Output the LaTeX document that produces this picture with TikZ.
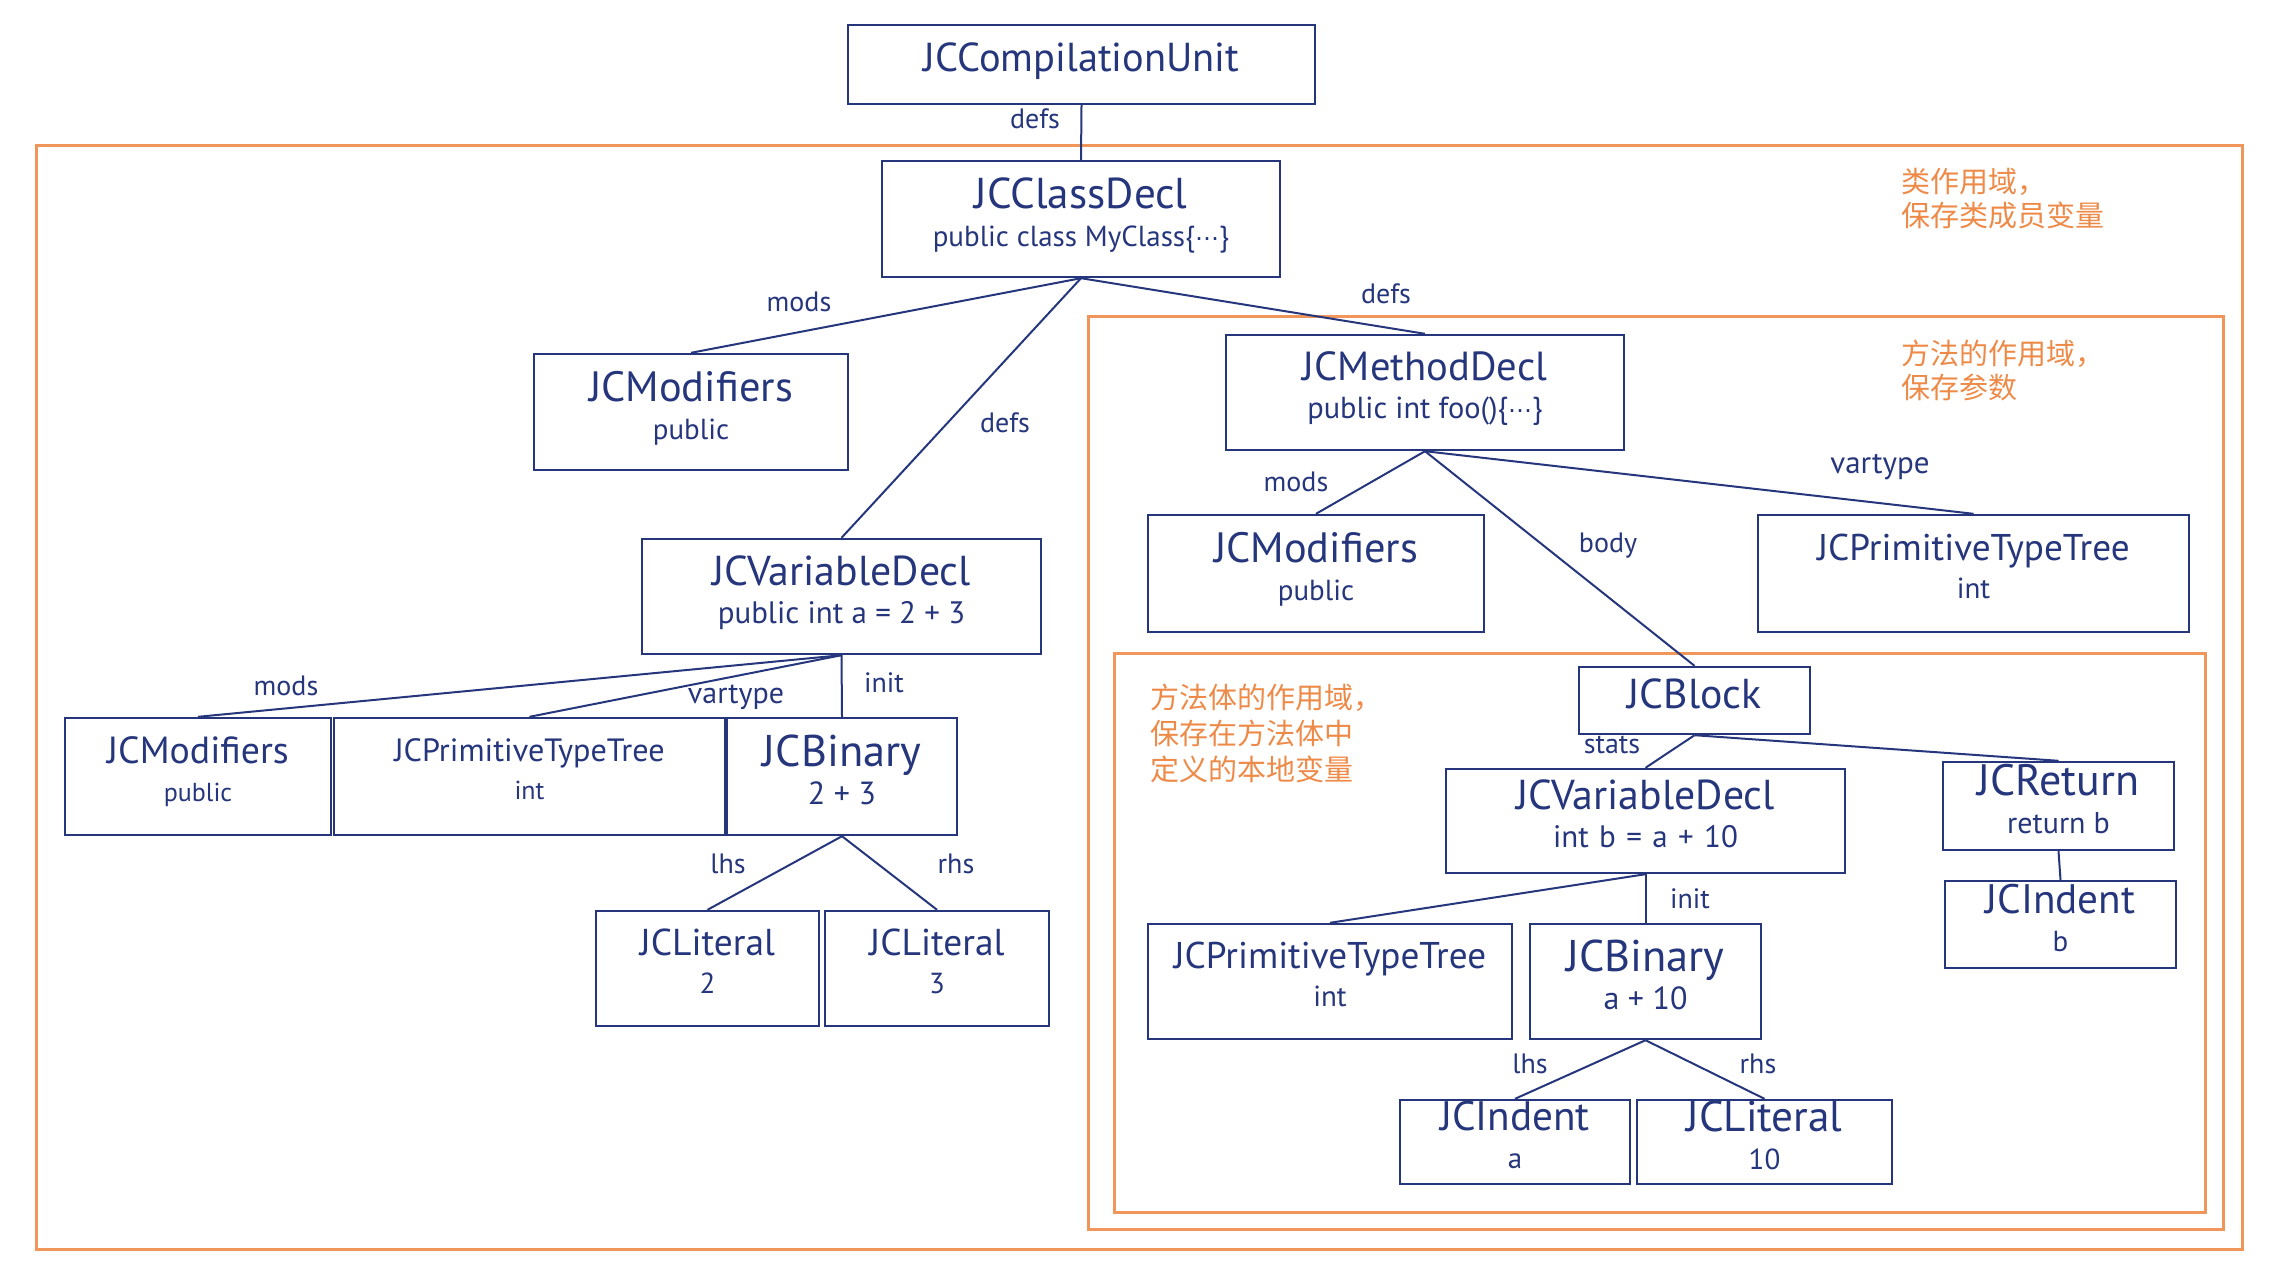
\documentclass[tikz,border=0pt]{standalone}
\usepackage{fontspec}
\setmainfont{PT Sans}
\newfontfamily\cjk{Noto Sans CJK SC}
\newfontfamily\dvs{DejaVu Sans}
\definecolor{navy}{RGB}{38,54,124}
\definecolor{scope}{RGB}{240,150,90}
\definecolor{scopetxt}{RGB}{238,138,72}
\newcommand{\ttl}[2]{{\fontsize{#1}{19}\selectfont #2}}
\newcommand{\sbt}[2]{{\fontsize{#1}{19}\selectfont #2}}
\newcommand{\midell}{{\dvs\fontsize{12}{19}\selectfont ⋯}}
\newcommand{\wsp}{\hspace{5.2pt}}
\tikzset{
  box/.style={draw=navy, line width=1.2pt, inner sep=0pt, align=center, text=navy, font=\fontsize{20}{19}\selectfont},
  scopebox/.style={draw=scope, line width=1.5pt},
  conn/.style={draw=navy, line width=1pt},
  lbl/.style={text=navy, inner sep=0pt, font=\fontsize{14}{16}\selectfont},
  cn/.style={text=scopetxt, inner sep=0pt, align=left, anchor=west},
}
% name, x1, y1, x2, y2, text  (coordinates in reference pixels)
\newcommand{\treebox}[6]{%
  \node[box, minimum width={(#4-#2)*0.5pt}, minimum height={(#5-#3)*0.5pt}]
    (#1) at ({(#2+#4)/2},{(#3+#5)/2}) {#6\rule[-7pt]{0pt}{7pt}};}
\begin{document}
\begin{tikzpicture}[x=0.5pt, y=-0.5pt]
\useasboundingbox (0,0) rectangle (2284,1279);
% scopes
\draw[scopebox] (36,145) rectangle (2242,1249);
\draw[scopebox] (1088,316) rectangle (2223,1229);
\draw[scopebox] (1114,653) rectangle (2205,1212);
\node[cn, font=\cjk\fontsize{14.5}{17}\selectfont] (c1) at (1901,199) {类作用域，\\保存类成员变量};
\node[cn, font=\cjk\fontsize{14.5}{17}\selectfont] (c2) at (1901,370) {方法的作用域，\\保存参数};
\node[cn, font=\cjk\fontsize{14.5}{18}\selectfont] (c3) at (1150,733) {方法体的作用域，\\保存在方法体中\\定义的本地变量};
% boxes
\treebox{cu}{848}{25}{1315}{104}{\ttl{20.2}{JCCompilationUnit}}
\treebox{cd}{882}{161}{1280}{277}{\ttl{21.6}{JCClassDecl}\\\sbt{14.5}{public class MyClass\{\midell\}}}
\treebox{mod1}{534}{354}{848}{470}{\ttl{21.2}{JCModifiers}\\\sbt{14.5}{public}}
\treebox{vd1}{642}{539}{1041}{654}{\ttl{20.9}{JCVariableDecl}\\\sbt{15.5}{public int a = 2 + 3}}
\treebox{md}{1226}{335}{1624}{450}{\ttl{20.3}{JCMethodDecl}\\\sbt{15.2}{public int foo()\{\midell\}}}
\treebox{mod2}{1148}{515}{1484}{632}{\ttl{21.2}{JCModifiers}\\\sbt{14.5}{public}}
\treebox{ptt2}{1758}{515}{2189}{632}{\ttl{18.6}{JCPrimitiveTypeTree}\\\sbt{14.5}{int}}
\treebox{mod3}{65}{718}{331}{835}{\ttl{18.9}{JCModifiers}\\\sbt{13}{public}}
\treebox{ptt3}{334}{718}{725}{835}{\ttl{16.1}{JCPrimitiveTypeTree}\\\sbt{13}{int}}
\treebox{bin1}{727}{718}{957}{835}{\ttl{22.2}{JCBinary}\\\sbt{16}{2 + 3}}
\treebox{lit2}{596}{911}{819}{1026}{\ttl{18.7}{JCLiteral}\\\sbt{14.5}{2}}
\treebox{lit3}{825}{911}{1049}{1026}{\ttl{18.7}{JCLiteral}\\\sbt{14.5}{3}}
\treebox{blk}{1579}{667}{1810}{734}{\ttl{20.9}{JCBlock}}
\treebox{vd2}{1446}{769}{1845}{873}{\ttl{20.9}{JCVariableDecl}\\\sbt{15.5}{int\wsp b\wsp =\wsp a\wsp +\wsp 10}}
\treebox{ret}{1943}{762}{2174}{850}{\ttl{22}{JCReturn}\\\sbt{15}{return b}}
\treebox{idb}{1945}{881}{2176}{968}{\ttl{20.6}{JCIndent}\\\sbt{14.5}{b}}
\treebox{ptt4}{1148}{924}{1512}{1039}{\ttl{18.6}{JCPrimitiveTypeTree}\\\sbt{14.5}{int}}
\treebox{bin2}{1530}{924}{1761}{1039}{\ttl{22.2}{JCBinary}\\\sbt{16}{a + 10}}
\treebox{ida}{1400}{1100}{1630}{1184}{\ttl{20.6}{JCIndent}\\\sbt{14.5}{a}}
\treebox{lit10}{1637}{1100}{1892}{1184}{\ttl{21.6}{JCLiteral}\\\sbt{14.5}{10}}
% connectors
\draw[conn] (cu.south) -- (cd.north);
\draw[conn] (cd.south) -- (mod1.north);
\draw[conn] (cd.south) -- (vd1.north);
\draw[conn] (cd.south) -- (md.north);
\draw[conn] (md.south) -- (mod2.north);
\draw[conn] (md.south) -- (ptt2.north);
\draw[conn] (md.south) -- (blk.north);
\draw[conn] (vd1.south) -- (mod3.north);
\draw[conn] (vd1.south) -- (ptt3.north);
\draw[conn] (vd1.south) -- (bin1.north);
\draw[conn] (bin1.south) -- (lit2.north);
\draw[conn] (bin1.south) -- (lit3.north);
\draw[conn] (blk.south) -- (vd2.north);
\draw[conn] (blk.south) -- (ret.north);
\draw[conn] (ret.south) -- (idb.north);
\draw[conn] (vd2.south) -- (ptt4.north);
\draw[conn] (vd2.south) -- (bin2.north);
\draw[conn] (bin2.south) -- (ida.north);
\draw[conn] (bin2.south) -- (lit10.north);
% labels
\node[lbl] (l1) at (1035,119) {defs};
\node[lbl] (l2) at (799,302) {mods};
\node[lbl] (l3) at (1005,423) {defs};
\node[lbl] (l4) at (1386,294) {defs};
\node[lbl] (l5) at (1296,482) {mods};
\node[lbl] (l6) at (1608,546) {body};
\node[lbl, font=\fontsize{15.5}{17}\selectfont] (l7) at (1880,467) {vartype};
\node[lbl] (l8) at (286,686) {mods};
\node[lbl, font=\fontsize{15}{17}\selectfont] (l9) at (736,697) {vartype};
\node[lbl] (l10) at (884,683) {init};
\node[lbl] (l11) at (728,864) {lhs};
\node[lbl] (l12) at (956,864) {rhs};
\node[lbl] (l13) at (1612,745) {stats};
\node[lbl] (l14) at (1690,899) {init};
\node[lbl] (l15) at (1530,1064) {lhs};
\node[lbl] (l16) at (1758,1064) {rhs};
\end{tikzpicture}
\end{document}
